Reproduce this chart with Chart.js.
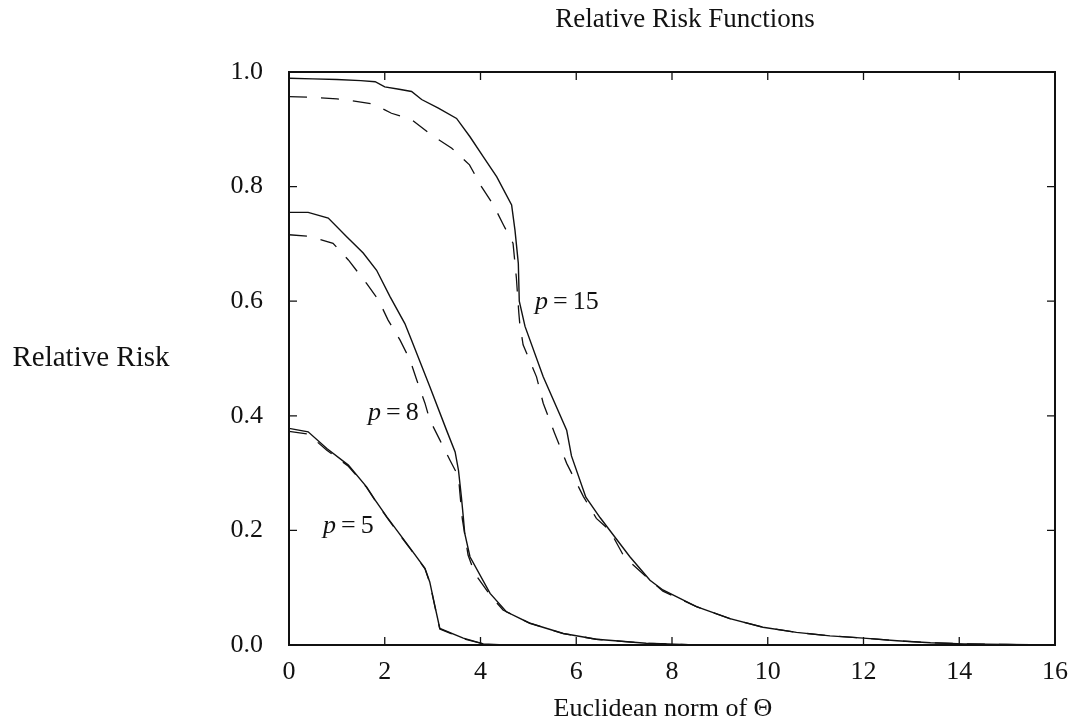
<!DOCTYPE html>
<html><head><meta charset="utf-8">
<script src="https://cdn.jsdelivr.net/npm/chart.js@4"></script>
<style>html,body{margin:0;padding:0;background:#fff}#wrap{width:1072px;height:723px;position:relative}</style>
</head><body><div id="wrap"><canvas id="c"></canvas></div>
<script>
const FONT = '"Liberation Serif", "DejaVu Serif", serif';
const FS = 26;
const titleText = 'Relative Risk Functions';
const xAxisTitle = 'Euclidean norm of Θ';
const yAxisTitle = 'Relative Risk';
const xTickValues = [0, 2, 4, 6, 8, 10, 12, 14, 16];
const yTickValues = [0, 0.2, 0.4, 0.6, 0.8, 1.0];

// p = 15
const x15Solid = [0,0.5,1.0,1.5,1.8,2.0,2.3,2.56,2.77,3.12,3.5,3.78,4.06,4.34,4.65,4.72,4.79,4.81,4.93,5.31,5.8,5.9,6.2,6.5,7.12,7.54,7.81,8.51,9.21,9.9,10.6,11.3,12.0,12.7,13.4,14.1,15,16];
const y15Solid = [0.989,0.988,0.987,0.985,0.983,0.974,0.970,0.966,0.952,0.937,0.919,0.887,0.852,0.817,0.768,0.724,0.666,0.600,0.556,0.468,0.375,0.330,0.258,0.222,0.154,0.113,0.096,0.067,0.046,0.031,0.022,0.016,0.012,0.0075,0.004,0.002,0.001,0];
const x15Dashed = [0,0.5,1.0,1.31,1.76,2.14,2.56,2.98,3.4,3.77,4.02,4.27,4.48,4.68,4.75,4.80,4.82,4.89,5.17,5.31,5.55,5.80,6.15,6.42,6.70,7.0,7.45,7.81,8.51,9.21,9.9,10.6,11.3,12.0,12.7,13.4,14.1,15,16];
const y15Dashed = [0.957,0.956,0.953,0.950,0.944,0.928,0.917,0.890,0.867,0.838,0.800,0.768,0.733,0.701,0.640,0.580,0.561,0.524,0.468,0.422,0.369,0.317,0.259,0.221,0.200,0.154,0.120,0.094,0.067,0.046,0.031,0.022,0.016,0.012,0.0075,0.004,0.002,0.001,0];

// p = 8
const x8Solid = [0,0.4,0.82,1.2,1.55,1.83,2.11,2.42,2.56,2.94,3.29,3.47,3.54,3.60,3.64,3.67,3.78,4.2,4.54,5.03,5.73,6.42,7.46,8.5,16];
const y8Solid = [0.755,0.755,0.745,0.713,0.684,0.654,0.608,0.561,0.532,0.451,0.375,0.337,0.305,0.259,0.224,0.195,0.154,0.090,0.058,0.038,0.020,0.010,0.003,0,0];
const x8Dashed = [0,0.44,0.92,1.24,1.62,1.87,2.07,2.32,2.53,2.67,2.84,2.94,3.15,3.36,3.54,3.57,3.62,3.74,3.88,4.2,4.47,5.03,5.73,6.42,7.46,8.5,16];
const y8Dashed = [0.716,0.713,0.701,0.672,0.631,0.602,0.567,0.532,0.497,0.462,0.422,0.393,0.358,0.323,0.294,0.265,0.220,0.157,0.125,0.087,0.061,0.038,0.020,0.010,0.003,0,0];

// p = 5
const x5 = [0,0.4,0.79,1.24,1.62,1.8,2.04,2.53,2.84,2.94,3.05,3.15,3.64,4.06,4.5,16];
const y5Solid = [0.378,0.372,0.343,0.314,0.276,0.253,0.224,0.169,0.134,0.110,0.067,0.029,0.012,0.002,0,0];
const y5Dashed = [0.373,0.368,0.340,0.312,0.275,0.252,0.223,0.168,0.133,0.109,0.066,0.028,0.011,0.002,0,0];

// curve labels: [p value text, x (left edge), y (centre)]
const curveLabels = [['15', 5.14, 0.599], ['8', 1.65, 0.405], ['5', 0.71, 0.208]];

const pts = (xs, ys) => xs.map((v, i) => ({x: v, y: ys[i]}));
const INK = '#111';
const solid = (label, data) => ({label, data, borderColor: INK, borderWidth: 1.4, pointRadius: 0, fill: false, tension: 0});
const dashed = (label, data) => ({label, data, borderColor: INK, borderWidth: 1.3, borderDash: [18, 14], pointRadius: 0, fill: false, tension: 0});

const decor = {
  id: 'decor',
  afterDraw(chart) {
    const {ctx, chartArea: a, scales: {x, y}} = chart;
    ctx.save();
    ctx.strokeStyle = INK;
    ctx.lineWidth = 2;
    ctx.strokeRect(a.left, a.top, a.right - a.left, a.bottom - a.top);
    ctx.lineWidth = 1.3;
    const L = 8;
    ctx.beginPath();
    xTickValues.forEach(v => {
      const px = x.getPixelForValue(v);
      ctx.moveTo(px, a.bottom); ctx.lineTo(px, a.bottom - L);
      ctx.moveTo(px, a.top); ctx.lineTo(px, a.top + L);
    });
    yTickValues.forEach(v => {
      const py = y.getPixelForValue(v);
      ctx.moveTo(a.left, py); ctx.lineTo(a.left + L, py);
      ctx.moveTo(a.right, py); ctx.lineTo(a.right - L, py);
    });
    ctx.stroke();

    ctx.fillStyle = INK;
    ctx.textBaseline = 'middle';
    ctx.textAlign = 'center';
    ctx.font = `27px ${FONT}`;
    ctx.fillText(titleText, 685, 20);
    ctx.font = `${FS}px ${FONT}`;
    ctx.fillText(xAxisTitle, 663, 709);
    ctx.font = `29px ${FONT}`;
    ctx.fillText(yAxisTitle, 91, y.getPixelForValue(0.5));

    ctx.textAlign = 'left';
    curveLabels.forEach(([num, lx, ly]) => {
      let px = x.getPixelForValue(lx);
      const py = y.getPixelForValue(ly);
      ctx.font = `italic ${FS}px ${FONT}`;
      ctx.fillText('p', px, py);
      px += ctx.measureText('p').width + 5;
      ctx.font = `${FS}px ${FONT}`;
      ctx.fillText('=', px, py);
      px += ctx.measureText('=').width + 5;
      ctx.fillText(num, px, py);
    });
    ctx.restore();
  }
};

new Chart(document.getElementById('c'), {
  type: 'line',
  data: {
    datasets: [
      solid('p=15', pts(x15Solid, y15Solid)),
      dashed('p=15 (dashed)', pts(x15Dashed, y15Dashed)),
      solid('p=8', pts(x8Solid, y8Solid)),
      dashed('p=8 (dashed)', pts(x8Dashed, y8Dashed)),
      solid('p=5', pts(x5, y5Solid)),
      dashed('p=5 (dashed)', pts(x5, y5Dashed))
    ]
  },
  options: {
    responsive: true,
    maintainAspectRatio: false,
    animation: false,
    layout: {padding: {top: 72, right: 17, left: 0, bottom: 0}},
    plugins: {legend: {display: false}, tooltip: {enabled: false}, title: {display: false}},
    scales: {
      x: {
        type: 'linear', min: 0, max: 16,
        afterBuildTicks: s => { s.ticks = xTickValues.map(v => ({value: v})); },
        afterFit: s => { s.height = 78; s.paddingRight = 0; s.paddingLeft = 0; },
        grid: {display: false, drawTicks: false},
        border: {display: false},
        ticks: {color: INK, padding: 12, maxRotation: 0, font: {family: FONT, size: FS}, callback: v => String(v)}
      },
      y: {
        type: 'linear', min: 0, max: 1,
        afterBuildTicks: s => { s.ticks = yTickValues.map(v => ({value: v})); },
        afterFit: s => { s.width = 289; s.paddingTop = 0; s.paddingBottom = 0; },
        grid: {display: false, drawTicks: false},
        border: {display: false},
        ticks: {color: INK, padding: 26, font: {family: FONT, size: FS}, callback: v => Number(v).toFixed(1)}
      }
    }
  },
  plugins: [decor]
});
</script>
</body></html>
